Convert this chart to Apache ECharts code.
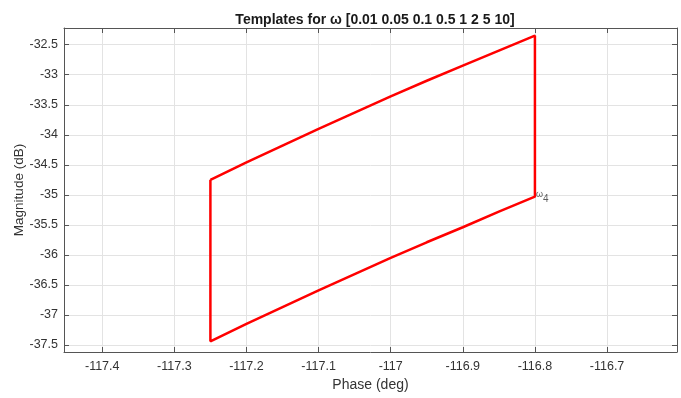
<!DOCTYPE html>
<html>
<head>
<meta charset="utf-8">
<script src="https://cdn.jsdelivr.net/npm/echarts@6/dist/echarts.min.js"></script>
<style>
  html, body { margin: 0; padding: 0; background: #fff; }
  #chart { width: 681px; height: 398px; }
</style>
</head>
<body>
<div id="chart"></div>
<script>
// Template boundary: phase (deg) vs magnitude (dB)
var phaseGrid = [-117.25, -117.2, -117.15, -117.1, -117.05, -117.0, -116.95, -116.9, -116.85, -116.8];
var magUpper  = [-34.75, -34.46, -34.18, -33.90, -33.63, -33.36, -33.10, -32.85, -32.60, -32.35];
var magLower  = [-37.44, -37.15, -36.87, -36.59, -36.32, -36.05, -35.79, -35.54, -35.28, -35.03];

// Frequency marker placed at the lower right corner
var markerPhase = -116.8;
var markerMag = -35.03;
var markerSub = '4';

var xTicks = [-117.4, -117.3, -117.2, -117.1, -117.0, -116.9, -116.8, -116.7];
var yTicks = [-37.5, -37, -36.5, -36, -35.5, -35, -34.5, -34, -33.5, -33, -32.5];
var xLimits = [-117.453, -116.603];
var yLimits = [-37.617, -32.222];

// Closed outline: upper edge left->right, down the right side, lower edge back, up the left side
var outline = [];
for (var i = 0; i < phaseGrid.length; i++) outline.push([phaseGrid[i], magUpper[i]]);
for (var j = phaseGrid.length - 1; j >= 0; j--) outline.push([phaseGrid[j], magLower[j]]);
outline.push([phaseGrid[0], magUpper[0]]);

var FONT = 'Liberation Sans, Arial, Helvetica, sans-serif';
var AXIS_COLOR = '#555';
var TEXT_COLOR = '#333';

function fmt(v) { return String(Math.round(v * 100) / 100); }

function axisBase(opts) {
  return Object.assign({
    type: 'value',
    axisLine: { show: true, onZero: false, lineStyle: { color: AXIS_COLOR, width: 1 } },
    axisTick: { show: true, inside: true, length: 5, lineStyle: { color: AXIS_COLOR } },
    splitLine: { show: false },
    axisLabel: { show: false }
  }, opts);
}

var chart = echarts.init(document.getElementById('chart'), null, { renderer: 'canvas' });
chart.setOption({
  animation: false,
  backgroundColor: '#fff',
  title: {
    text: 'Templates for ω [0.01 0.05 0.1 0.5 1 2 5 10]',
    left: 370,
    textAlign: 'center',
    top: 8,
    textStyle: { fontFamily: FONT, fontSize: 14, fontWeight: 'bold', color: '#1a1a1a' }
  },
  grid: { left: 64, right: 4, top: 28, bottom: 46, containLabel: false, outerBoundsMode: 'none' },
  xAxis: [
    axisBase({
      position: 'bottom',
      min: xLimits[0], max: xLimits[1],
      name: 'Phase (deg)',
      nameLocation: 'middle',
      nameGap: 26,
      nameMoveOverlap: false,
      nameTextStyle: { fontFamily: FONT, fontSize: 14, color: TEXT_COLOR },
      axisTick: { show: true, inside: true, length: 5, customValues: xTicks, lineStyle: { color: AXIS_COLOR } },
      axisLabel: { show: true, customValues: xTicks, margin: 8, formatter: fmt,
                   fontFamily: FONT, fontSize: 12.5, color: TEXT_COLOR },
      splitLine: { show: true, lineStyle: { color: '#e3e3e3', width: 1 } }
    }),
    axisBase({
      position: 'top',
      min: xLimits[0], max: xLimits[1],
      axisTick: { show: true, inside: true, length: 5, customValues: xTicks, lineStyle: { color: AXIS_COLOR } }
    })
  ],
  yAxis: [
    axisBase({
      position: 'left',
      min: yLimits[0], max: yLimits[1],
      name: 'Magnitude (dB)',
      nameLocation: 'middle',
      nameGap: 38,
      nameMoveOverlap: false,
      nameTextStyle: { fontFamily: FONT, fontSize: 13.5, color: TEXT_COLOR },
      axisTick: { show: true, inside: true, length: 5, customValues: yTicks, lineStyle: { color: AXIS_COLOR } },
      axisLabel: { show: true, customValues: yTicks, margin: 6, formatter: fmt,
                   fontFamily: FONT, fontSize: 12.5, color: TEXT_COLOR },
      splitLine: { show: true, lineStyle: { color: '#e3e3e3', width: 1 } }
    }),
    axisBase({
      position: 'right',
      min: yLimits[0], max: yLimits[1],
      axisTick: { show: true, inside: true, length: 5, customValues: yTicks, lineStyle: { color: AXIS_COLOR } }
    })
  ],
  series: [
    {
      type: 'line',
      xAxisIndex: 0, yAxisIndex: 0,
      data: outline,
      showSymbol: false,
      symbol: 'none',
      smooth: false,
      lineStyle: { color: '#ff0000', width: 2.5 },
      z: 3
    },
    {
      type: 'scatter',
      xAxisIndex: 0, yAxisIndex: 0,
      data: [[markerPhase, markerMag]],
      symbolSize: 0,
      silent: true,
      label: {
        show: true,
        position: 'right',
        distance: 1,
        formatter: '{w|ω}{s|' + markerSub + '}',
        rich: {
          w: { fontFamily: FONT, fontSize: 9, color: '#333', padding: [0, 0, 4, 0] },
          s: { fontFamily: FONT, fontSize: 10, color: '#333', padding: [6, 0, 0, 0] }
        }
      },
      z: 4
    }
  ]
});
</script>
</body>
</html>
